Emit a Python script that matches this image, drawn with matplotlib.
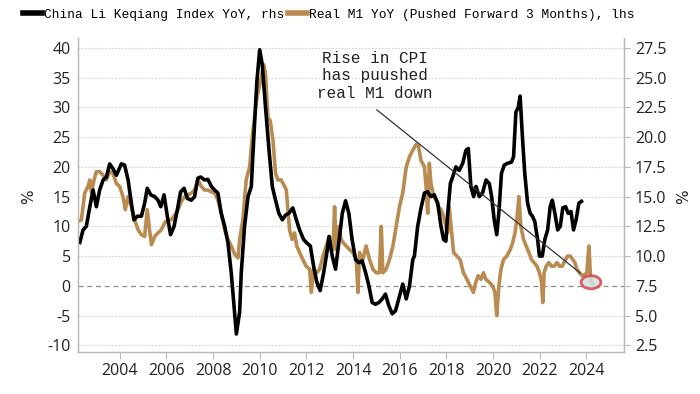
import matplotlib
matplotlib.use("Agg")
import matplotlib.pyplot as plt
from matplotlib.lines import Line2D
from matplotlib.patches import Ellipse

# Li Keqiang index YoY (right axis), decimal years
lk_years = [
    2002.29, 2002.43, 2002.57, 2002.72, 2002.86, 2003.00, 2003.14, 2003.29, 2003.43, 2003.57,
    2003.71, 2003.86, 2004.07, 2004.21, 2004.36, 2004.50, 2004.61, 2004.76, 2004.93, 2005.07,
    2005.18, 2005.33, 2005.50, 2005.64, 2005.76, 2005.90, 2006.04, 2006.18, 2006.33, 2006.47,
    2006.61, 2006.76, 2006.90, 2007.07, 2007.21, 2007.35, 2007.47, 2007.64, 2007.78, 2007.93,
    2008.07, 2008.21, 2008.35, 2008.50, 2008.64, 2008.78, 2008.90, 2009.00, 2009.14,
    2009.21, 2009.35, 2009.50, 2009.64, 2009.74, 2009.88, 2010.00, 2010.11, 2010.25, 2010.40,
    2010.54, 2010.68, 2010.82, 2010.97, 2011.11, 2011.25, 2011.42, 2011.57, 2011.71, 2011.88,
    2012.02, 2012.17, 2012.31, 2012.45, 2012.59, 2012.74, 2012.88, 2012.97, 2013.11, 2013.25,
    2013.39, 2013.54, 2013.68, 2013.82, 2013.96, 2014.11, 2014.25, 2014.39, 2014.54, 2014.68,
    2014.82, 2014.96, 2015.11, 2015.25, 2015.39, 2015.53, 2015.68, 2015.82, 2015.96, 2016.13,
    2016.28, 2016.42, 2016.56,
    2016.63, 2016.77, 2016.91, 2017.06, 2017.20, 2017.34, 2017.48, 2017.63, 2017.77, 2017.88,
    2017.98, 2018.05, 2018.17, 2018.27, 2018.41, 2018.55, 2018.70, 2018.84, 2018.94, 2019.05,
    2019.17, 2019.27, 2019.41, 2019.55, 2019.70, 2019.84, 2019.94, 2020.05, 2020.16, 2020.26,
    2020.36, 2020.48, 2020.62, 2020.79, 2020.88, 2020.98, 2021.08, 2021.16, 2021.26, 2021.36,
    2021.48, 2021.59, 2021.69, 2021.79, 2021.91, 2021.99, 2022.11, 2022.22, 2022.34, 2022.45,
    2022.54, 2022.65, 2022.77, 2022.88, 2022.99, 2023.11, 2023.22, 2023.34, 2023.45, 2023.56,
    2023.68, 2023.79,
]
lk_values = [
    11.15, 12.2, 12.5, 14.15, 15.55, 14.15, 15.55, 16.4, 16.65, 17.75,
    17.35, 16.8, 17.75, 17.65, 16.4, 14.45, 13.05, 13.35, 13.35, 14.45,
    15.7, 15.15, 15.0, 14.7, 14.15, 15.15, 13.35, 11.8, 12.5, 13.9,
    15.4, 15.7, 14.85, 14.7, 15.0, 16.55, 16.65, 16.4, 16.45, 15.85,
    15.55, 15.3, 13.6, 12.5, 11.1, 8.6, 5.85, 3.45, 5.3,
    8.6, 12.5, 15.0, 15.85, 19.7, 24.7, 27.35, 26.1, 22.5, 18.9,
    15.85, 14.7, 13.6, 13.05, 13.45, 13.6, 14.05, 13.05, 12.2, 11.4,
    11.1, 10.85, 9.15, 7.8, 7.1, 8.6, 10.3, 11.65, 10.0, 8.9,
    11.1, 13.6, 14.65, 13.6, 11.4, 9.7, 9.45, 9.6, 8.6, 7.5,
    6.1, 5.95, 6.1, 6.4, 6.8, 5.85, 5.15, 5.4, 6.4, 7.65,
    6.4, 7.5, 9.7,
    10.0, 12.5, 14.0, 15.3, 15.4, 15.0, 15.15, 14.45, 12.5, 11.4,
    11.25, 13.35, 16.1, 16.65, 17.5, 17.2, 17.8, 18.9, 19.05, 15.85,
    15.0, 15.85, 15.0, 15.3, 16.4, 16.1, 15.0, 13.05, 11.8, 13.9,
    16.95, 17.65, 17.8, 17.9, 18.35, 22.1, 22.5, 23.45, 20.0, 16.95,
    14.45, 13.6, 13.35, 12.9, 11.4, 10.0, 10.0, 11.4, 12.2, 14.15,
    14.7, 13.6, 12.2, 12.5, 14.05, 14.15, 13.6, 13.75, 12.2, 13.05,
    14.45, 14.6,
]

# Real M1 YoY pushed forward 3 months (left axis)
m1_years = [
    2002.22, 2002.36, 2002.50, 2002.64, 2002.72, 2002.79, 2002.90, 2003.00, 2003.14, 2003.29,
    2003.43, 2003.57, 2003.71, 2003.86, 2004.00, 2004.14, 2004.24, 2004.36, 2004.50, 2004.64,
    2004.79, 2004.93, 2005.07, 2005.18, 2005.28, 2005.36, 2005.50, 2005.64, 2005.78, 2005.93,
    2006.07, 2006.21, 2006.36, 2006.50, 2006.64, 2006.78, 2006.93, 2007.07, 2007.21, 2007.35,
    2007.50, 2007.64, 2007.78, 2007.93, 2008.07, 2008.21, 2008.35, 2008.50, 2008.64, 2008.78,
    2008.93, 2009.07, 2009.14, 2009.28, 2009.42, 2009.57, 2009.68, 2009.78, 2009.88, 2009.97,
    2010.07, 2010.17, 2010.25, 2010.35, 2010.45, 2010.57, 2010.68, 2010.78, 2010.92, 2011.07,
    2011.14, 2011.21, 2011.28, 2011.39, 2011.49, 2011.59, 2011.71, 2011.85, 2011.99, 2012.14,
    2012.21, 2012.31, 2012.45, 2012.57, 2012.71, 2012.85, 2012.99, 2013.14, 2013.21, 2013.28,
    2013.39, 2013.49, 2013.59, 2013.71, 2013.85, 2013.99, 2014.14, 2014.21, 2014.28, 2014.42,
    2014.56, 2014.71, 2014.85, 2014.99, 2015.13, 2015.21, 2015.28, 2015.42, 2015.56, 2015.71,
    2015.85, 2015.99, 2016.13, 2016.28, 2016.42, 2016.56, 2016.71, 2016.80, 2016.91, 2017.06,
    2017.13, 2017.20, 2017.27, 2017.34, 2017.46, 2017.56, 2017.66, 2017.77, 2017.88, 2017.98,
    2018.05, 2018.12, 2018.20, 2018.31, 2018.45, 2018.59, 2018.73, 2018.88, 2019.02, 2019.16,
    2019.26, 2019.36, 2019.48, 2019.59, 2019.69, 2019.84, 2019.98, 2020.08, 2020.16, 2020.25,
    2020.34, 2020.45, 2020.59, 2020.74, 2020.84, 2020.94, 2021.02, 2021.11, 2021.19, 2021.31,
    2021.42, 2021.54, 2021.65, 2021.76, 2021.88, 2021.99, 2022.08, 2022.13, 2022.19, 2022.28,
    2022.39, 2022.51, 2022.62, 2022.74, 2022.85, 2022.96, 2023.08, 2023.19, 2023.31, 2023.42,
    2023.51, 2023.59, 2023.71, 2023.82, 2023.94, 2024.02, 2024.11, 2024.19, 2024.28,
]
m1_values = [
    10.8, 11.1, 15.6, 16.7, 17.8, 15.6, 17.8, 19.2, 19.2, 18.6,
    17.8, 19.2, 18.9, 17.2, 16.7, 15.0, 12.8, 15.0, 13.3, 11.1,
    9.4, 8.6, 8.3, 12.8, 9.4, 6.9, 8.3, 8.9, 9.4, 10.6,
    11.1, 11.1, 11.9, 12.8, 14.2, 15.0, 15.3, 15.6, 16.1, 17.8,
    16.7, 16.1, 16.1, 15.8, 15.6, 14.4, 12.2, 9.4, 7.8, 6.7,
    5.3, 4.7, 7.8, 11.1, 17.8, 20.0, 25.0, 28.3, 31.7, 33.3,
    35.0, 37.2, 35.6, 28.3, 27.8, 24.4, 18.9, 17.8, 17.8, 16.7,
    16.1, 12.8, 9.4, 7.8, 8.9, 6.7, 5.6, 4.4, 3.3, 2.8,
    -1.1, 2.8, 2.2, 2.8, 5.0, 6.7, 8.3, 6.1, 13.3, 6.1,
    10.0, 7.8, 7.2, 6.7, 6.1, 5.6, 4.4, -1.1, 5.6, 4.4,
    6.7, 4.4, 2.8, 2.2, 2.2, 10.0, 2.2, 2.8, 4.4, 6.7,
    10.0, 13.3, 15.6, 20.0, 21.7, 22.8, 23.8, 23.6, 21.1, 20.0,
    16.7, 12.2, 20.6, 17.2, 15.0, 14.4, 13.3, 12.8, 11.7, 10.0,
    8.9, 13.3, 10.0, 5.6, 5.0, 4.4, 2.2, 1.1, 0.0, -1.1,
    0.6, 1.7, 1.1, 2.2, 1.1, 0.6, 0.0, -1.1, -5.0, 0.0,
    2.8, 4.4, 5.0, 6.1, 7.2, 8.9, 11.1, 15.0, 10.0, 7.8,
    6.7, 5.6, 4.4, 3.9, 3.3, 2.2, 0.6, -2.8, 2.2, 3.3,
    3.9, 3.3, 3.3, 3.9, 3.3, 3.3, 4.2, 5.0, 5.0, 4.4,
    3.9, 2.8, 2.2, 1.7, 1.9, 2.2, 6.7, 0.6, 0.3,
]

left_ticks = [-10, -5, 0, 5, 10, 15, 20, 25, 30, 35, 40]
right_ticks = [2.5, 5.0, 7.5, 10.0, 12.5, 15.0, 17.5, 20.0, 22.5, 25.0, 27.5]
year_ticks = [2004, 2006, 2008, 2010, 2012, 2014, 2016, 2018, 2020, 2022, 2024]

BLACK = "#000000"
GOLD = "#B98B50"
SPINE = "#b8b8b8"
TXT = "#222222"

fig = plt.figure(figsize=(7, 3.94), dpi=100)
ax = fig.add_axes([0.111, 0.107, 0.78, 0.797])
ax2 = ax.twinx()

ax.plot(m1_years, m1_values, color=GOLD, lw=2.6, solid_joinstyle="round")
ax2.plot(lk_years, lk_values, color=BLACK, lw=2.6, solid_joinstyle="round")

ax.set_xlim(2002.2, 2025.6)
ax.set_ylim(-11.1, 41.7)
ax2.set_ylim(1.95, 28.35)

# grid
for t in left_ticks:
    if t == 0:
        ax.axhline(t, color="#8c8c8c", lw=0.9, ls=(0, (4, 3)), zorder=0)
    else:
        ax.axhline(t, color="#d2d2d2", lw=0.8, ls=(0, (1.5, 1.5)), zorder=0)

tick_font = dict(family="Open Sans", size=11.5, color=TXT)
ax.set_yticks(left_ticks)
ax.set_yticklabels([str(t) for t in left_ticks], **tick_font)
ax2.set_yticks(right_ticks)
ax2.set_yticklabels([f"{t:.1f}" for t in right_ticks], **tick_font)
ax.set_xticks(year_ticks)
ax.set_xticklabels([str(y) for y in year_ticks], **tick_font)

ax.tick_params(axis="y", length=0, pad=5)
ax2.tick_params(axis="y", length=4, width=0.8, color=SPINE, pad=4)
ax.tick_params(axis="x", length=5, width=0.8, color=SPINE, pad=3)

for a in (ax, ax2):
    for side in ("left", "right", "bottom"):
        a.spines[side].set_color(SPINE)
        a.spines[side].set_linewidth(0.9)
    a.spines["top"].set_visible(False)

# unit labels on both sides
fig.text(0.041, 0.5, "%", rotation=90, ha="center", va="center", fontsize=11, color=TXT)
fig.text(0.976, 0.5, "%", rotation=90, ha="center", va="center", fontsize=11, color=TXT)

# annotation
mono = "Liberation Mono"
ax2.text(2014.92, 35.3, "Rise in CPI\nhas puushed\nreal M1 down", transform=ax.transData,
         ha="center", va="center", multialignment="center", family=mono,
         fontsize=11.5, color="#222222", linespacing=1.2, zorder=6)
ax2.annotate("", xy=(2023.83, 1.85), xytext=(2014.92, 29.9),
             xycoords=ax.transData, textcoords=ax.transData,
             arrowprops=dict(arrowstyle="-", color="#333333", lw=0.9), zorder=6)

ax2.add_patch(Ellipse((2024.2, 0.6), 0.85, 2.2, transform=ax.transData,
                      facecolor="#cfe2dc", edgecolor="#d8434f", lw=2.0, alpha=0.85, zorder=7))

# legend
handles = [Line2D([], [], color=BLACK, lw=4), Line2D([], [], color=GOLD, lw=4)]
labels = ["China Li Keqiang Index YoY, rhs", "Real M1 YoY (Pushed Forward 3 Months), lhs"]
fig.legend(handles, labels, loc="center left", bbox_to_anchor=(0.033, 0.963), ncol=2,
           frameon=False, prop=dict(family=mono, size=9.3), handlelength=1.5,
           handletextpad=0.1, columnspacing=0.3, borderaxespad=0, borderpad=0)

fig.savefig("out.png", dpi=100)
